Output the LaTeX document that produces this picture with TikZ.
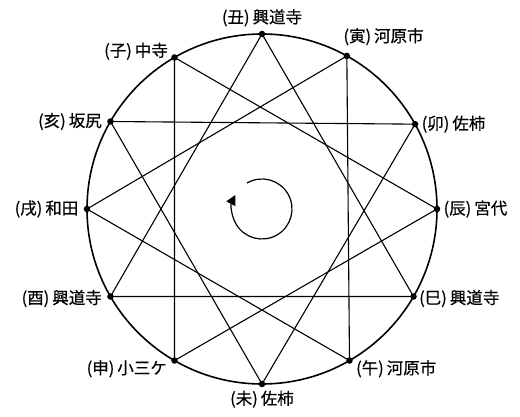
\documentclass[tikz,border=0pt]{standalone}
\usepackage{fontspec}
\newfontfamily\jpfont[FakeBold=0.5]{Noto Sans CJK JP}
\usepackage{tikz}
\usetikzlibrary{arrows.meta, positioning, backgrounds}
\newcommand\stn[2]{(#1)\hspace{3pt}#2}

\begin{document}
\begin{tikzpicture}[
  x=1pt, y=1pt,
  node distance=4pt,
  dot/.style={circle, fill=black, inner sep=0pt, minimum size=6.5pt},
  lbl/.style={inner sep=0pt, font=\jpfont\fontsize{16.5}{18}\selectfont},
  star/.style={line width=1.1pt, line join=miter},
  rim/.style={line width=1.6pt},
  turn/.style={line width=1.2pt, -{Triangle[length=10pt, width=10pt]}},
]
  \useasboundingbox (-262,-208) rectangle (258,209);
  \coordinate (c) at (0,0);
  \draw[rim] (c) circle[radius=175];

  % twelve stations on the rim
  \node[dot] (ushi)    at (90:175)   {};
  \node[dot] (tora)    at (61:175)   {};
  \node[dot] (u)       at (29:175)   {};
  \node[dot] (tatsu)   at (0:175)    {};
  \node[dot] (mi)      at (-30:175)  {};
  \node[dot] (uma)     at (-60:175)  {};
  \node[dot] (hitsuji) at (-90:175)  {};
  \node[dot] (saru)    at (-120:175) {};
  \node[dot] (tori)    at (-150:175) {};
  \node[dot] (inu)     at (180:175)  {};
  \node[dot] (i)       at (150:175)  {};
  \node[dot] (ne)      at (120:175)  {};

  \node[lbl, above=4pt of ushi]                 (l-ushi)    {\stn{丑}{興道寺}};
  \node[lbl, above right=8pt and -6pt of tora]  (l-tora)    {\stn{寅}{河原市}};
  \node[lbl, right=3pt of u]                    (l-u)       {\stn{卯}{佐柿}};
  \node[lbl, right=3pt of tatsu]                (l-tatsu)   {\stn{辰}{宮代}};
  \node[lbl, right=2pt of mi, yshift=-2pt]      (l-mi)      {\stn{巳}{興道寺}};
  \node[lbl, below right=-3pt and 4pt of uma]   (l-uma)     {\stn{午}{河原市}};
  \node[lbl, below=3pt of hitsuji]              (l-hitsuji) {\stn{未}{佐柿}};
  \node[lbl, below left=-3pt and 5pt of saru]   (l-saru)    {\stn{申}{小三ケ}};
  \node[lbl, left=5pt of tori, yshift=-2pt]     (l-tori)    {\stn{酉}{興道寺}};
  \node[lbl, left=5pt of inu]                   (l-inu)     {\stn{戌}{和田}};
  \node[lbl, left=5pt of i]                     (l-i)       {\stn{亥}{坂尻}};
  \node[lbl, above left=-5pt and 4pt of ne]     (l-ne)      {\stn{子}{中寺}};

  \begin{scope}[on background layer]
    \draw[star] (ne.center)   -- (tatsu.center)   -- (saru.center) -- cycle;
    \draw[star] (ushi.center) -- (mi.center)      -- (tori.center) -- cycle;
    \draw[star] (tora.center) -- (uma.center)     -- (inu.center)  -- cycle;
    \draw[star] (u.center)    -- (hitsuji.center) -- (i.center)    -- cycle;
  \end{scope}

  \draw[turn] (c) ++(120:30) arc[start angle=120, end angle=-208, radius=30];
\end{tikzpicture}
\end{document}
